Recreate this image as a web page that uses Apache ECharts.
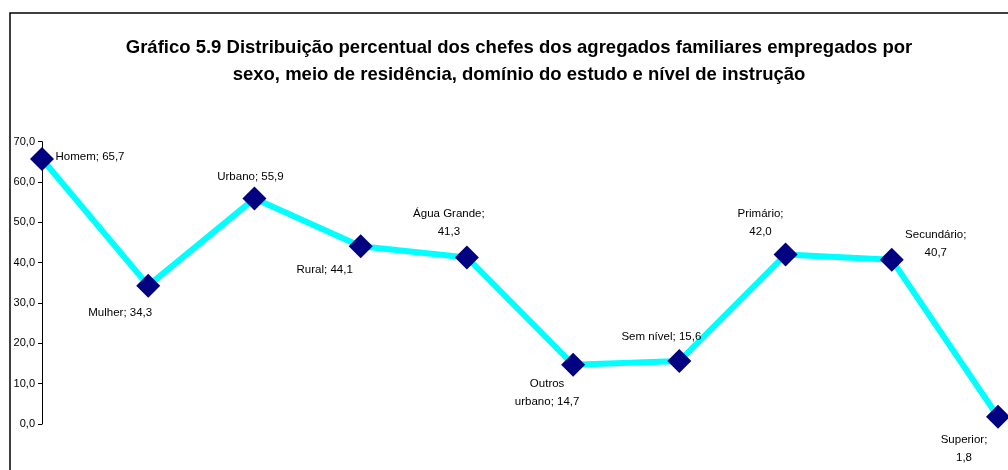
<!DOCTYPE html>
<html>
<head>
<meta charset="utf-8">
<script src="https://cdn.jsdelivr.net/npm/echarts@6/dist/echarts.min.js"></script>
<style>
html,body{margin:0;padding:0;background:#fff;}
#chart{width:1008px;height:470px;}
</style>
</head>
<body>
<div id="chart"></div>
<script>
const categories = ["Homem","Mulher","Urbano","Rural","Água Grande","Outros urbano","Sem nível","Primário","Secundário","Superior"];
const values = [65.7,34.3,55.9,44.1,41.3,14.7,15.6,42.0,40.7,1.8];
const yTicks = [0,10,20,30,40,50,60,70];

// label layout (styling only): [dx, dy, line break mode]
const labelLayout = [
  [48,-2,0],[-28,27,0],[-4,-22,0],[-36,24,0],[-18,-35,1],
  [-26,28,2],[-18,-24,0],[-25,-32,1],[44,-16,1],[-34,32,1]
];

function fmt(v){ return v.toFixed(1).replace('.', ','); }
function labelText(i){
  const name = categories[i], v = fmt(values[i]), mode = labelLayout[i][2];
  if (mode === 1) return name + ';\n' + v;
  if (mode === 2) { const p = name.split(' '); return p[0] + '\n' + p.slice(1).join(' ') + '; ' + v; }
  return name + '; ' + v;
}

const chart = echarts.init(document.getElementById('chart'), null, {renderer:'canvas'});
const option = {
  backgroundColor:'#fff',
  animation:false,
  graphic:[{
    type:'rect', shape:{x:10,y:13,width:1100,height:600},
    style:{fill:'none',stroke:'#000',lineWidth:1.5}, z:-1
  }],
  title:{
    text:'Gráfico 5.9 Distribuição percentual dos chefes dos agregados familiares empregados por\nsexo, meio de residência, domínio do estudo e nível de instrução',
    left:514, top:29, textAlign:'center',
    textStyle:{fontFamily:'Liberation Sans, Arial, sans-serif',fontSize:18.5,fontWeight:'bold',color:'#000',lineHeight:27}
  },
  grid:{left:42,right:10,top:141.7,bottom:46,containLabel:false},
  xAxis:{
    type:'category', data:categories, boundaryGap:false,
    axisLine:{show:false}, axisTick:{show:false}, axisLabel:{show:false}, splitLine:{show:false}
  },
  yAxis:{
    type:'value', min:yTicks[0], max:yTicks[yTicks.length-1], interval:10,
    axisLine:{show:true,lineStyle:{color:'#000',width:1}},
    axisTick:{show:true,length:4,lineStyle:{color:'#000'}},
    axisLabel:{color:'#000',fontFamily:'Liberation Sans, Arial, sans-serif',fontSize:11,margin:7,
      formatter:function(v){return fmt(v);}},
    splitLine:{show:false}
  },
  series:[{
    type:'line',
    data:values.map(function(v,i){
      return {value:v,label:{show:true,position:'inside',offset:[labelLayout[i][0],labelLayout[i][1]],
        formatter:labelText(i)}};
    }),
    lineStyle:{color:'#00FFFF',width:6},
    symbol:'diamond', symbolSize:[24,24],
    itemStyle:{color:'#000080'},
    label:{show:true,color:'#000',fontFamily:'Liberation Sans, Arial, sans-serif',fontSize:11.5,
      align:'center',verticalAlign:'middle',lineHeight:18},
    z:3
  }]
};
chart.setOption(option);
</script>
</body>
</html>
